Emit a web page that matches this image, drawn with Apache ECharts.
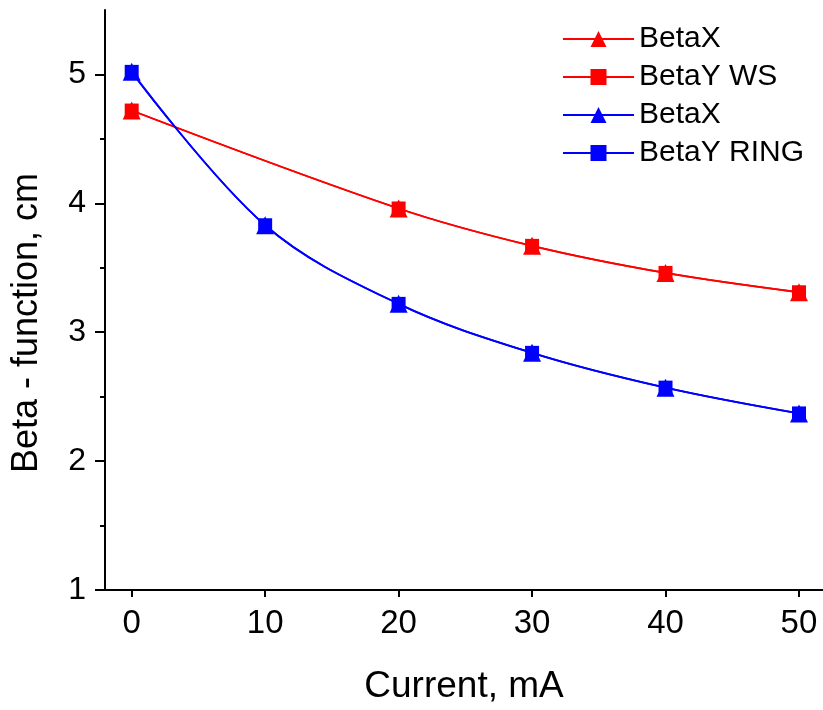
<!DOCTYPE html>
<html>
<head>
<meta charset="utf-8">
<script src="https://cdn.jsdelivr.net/npm/echarts@6/dist/echarts.min.js"></script>
<style>
  html, body { margin: 0; padding: 0; background: #fff; }
  #chart { width: 823px; height: 710px; }
</style>
</head>
<body>
<div id="chart"></div>
<script>
// data
const currentWS = [0, 20, 30, 40, 50];
const betaWS = [4.72, 3.96, 3.67, 3.46, 3.31];
const currentRing = [0, 10, 20, 30, 40, 50];
const betaRing = [5.02, 3.83, 3.22, 2.84, 2.57, 2.37];
const xTicks = [0, 10, 20, 30, 40, 50];
const yTicks = [1, 2, 3, 4, 5];
const yMinorTicks = [1.5, 2.5, 3.5, 4.5];

const pairs = (xs, ys) => xs.map((x, i) => [x, ys[i]]);
const font = 'Liberation Sans, Arial, sans-serif';

function makeSeries(name, color, symbol, size, data) {
  return {
    name: name,
    type: 'line',
    smooth: 0.35,
    data: data,
    symbol: symbol,
    symbolSize: size,
    color: color,
    lineStyle: { color: color, width: 1.8 },
    itemStyle: { color: color },
    emphasis: { disabled: true }
  };
}

let chart = echarts.init(document.getElementById('chart'));
let option = {
  animation: false,
  backgroundColor: '#fff',
  grid: { left: 105, right: 0, top: 10, bottom: 117 },
  legend: {
    orient: 'vertical',
    left: 557,
    top: 19,
    itemWidth: 71,
    itemHeight: 20,
    itemGap: 8,
    textStyle: { fontFamily: font, fontSize: 30, color: '#000' },
    data: ['BetaX', 'BetaY WS', 'BetaX ', 'BetaY RING']
  },
  xAxis: {
    type: 'value',
    min: -2,
    max: 51.8,
    name: 'Current, mA',
    nameLocation: 'middle',
    nameGap: 78,
    nameTextStyle: { fontFamily: font, fontSize: 37, color: '#000' },
    axisLine: { show: true, onZero: false, lineStyle: { color: '#000', width: 2 } },
    axisTick: { show: true, length: 7, customValues: xTicks, lineStyle: { color: '#000', width: 2 } },
    axisLabel: { customValues: xTicks, margin: 17, fontFamily: font, fontSize: 33, color: '#000' },
    splitLine: { show: false }
  },
  yAxis: [{
    type: 'value',
    min: 1,
    max: 5.5,
    name: 'Beta - function, cm',
    nameLocation: 'middle',
    nameGap: 60,
    nameTextStyle: { fontFamily: font, fontSize: 36, color: '#000', padding: [0, 46, 0, 0] },
    axisLine: { show: true, onZero: false, lineStyle: { color: '#000', width: 2 } },
    axisTick: { show: true, length: 10, customValues: yTicks, lineStyle: { color: '#000', width: 2 } },
    axisLabel: { customValues: yTicks, margin: 19, fontFamily: font, fontSize: 32, color: '#000' },
    splitLine: { show: false }
  }, {
    // minor ticks only
    type: 'value',
    position: 'left',
    min: 1,
    max: 5.5,
    axisLine: { show: false, onZero: false },
    axisTick: { show: true, length: 5, customValues: yMinorTicks, lineStyle: { color: '#000', width: 2 } },
    axisLabel: { show: false },
    splitLine: { show: false }
  }],
  series: [
    makeSeries('BetaX', '#ff0000', 'triangle', 18, pairs(currentWS, betaWS)),
    makeSeries('BetaY WS', '#ff0000', 'rect', 14, pairs(currentWS, betaWS)),
    makeSeries('BetaX ', '#0000ff', 'triangle', 18, pairs(currentRing, betaRing)),
    makeSeries('BetaY RING', '#0000ff', 'rect', 14, pairs(currentRing, betaRing))
  ]
};
chart.setOption(option);
</script>
</body>
</html>
